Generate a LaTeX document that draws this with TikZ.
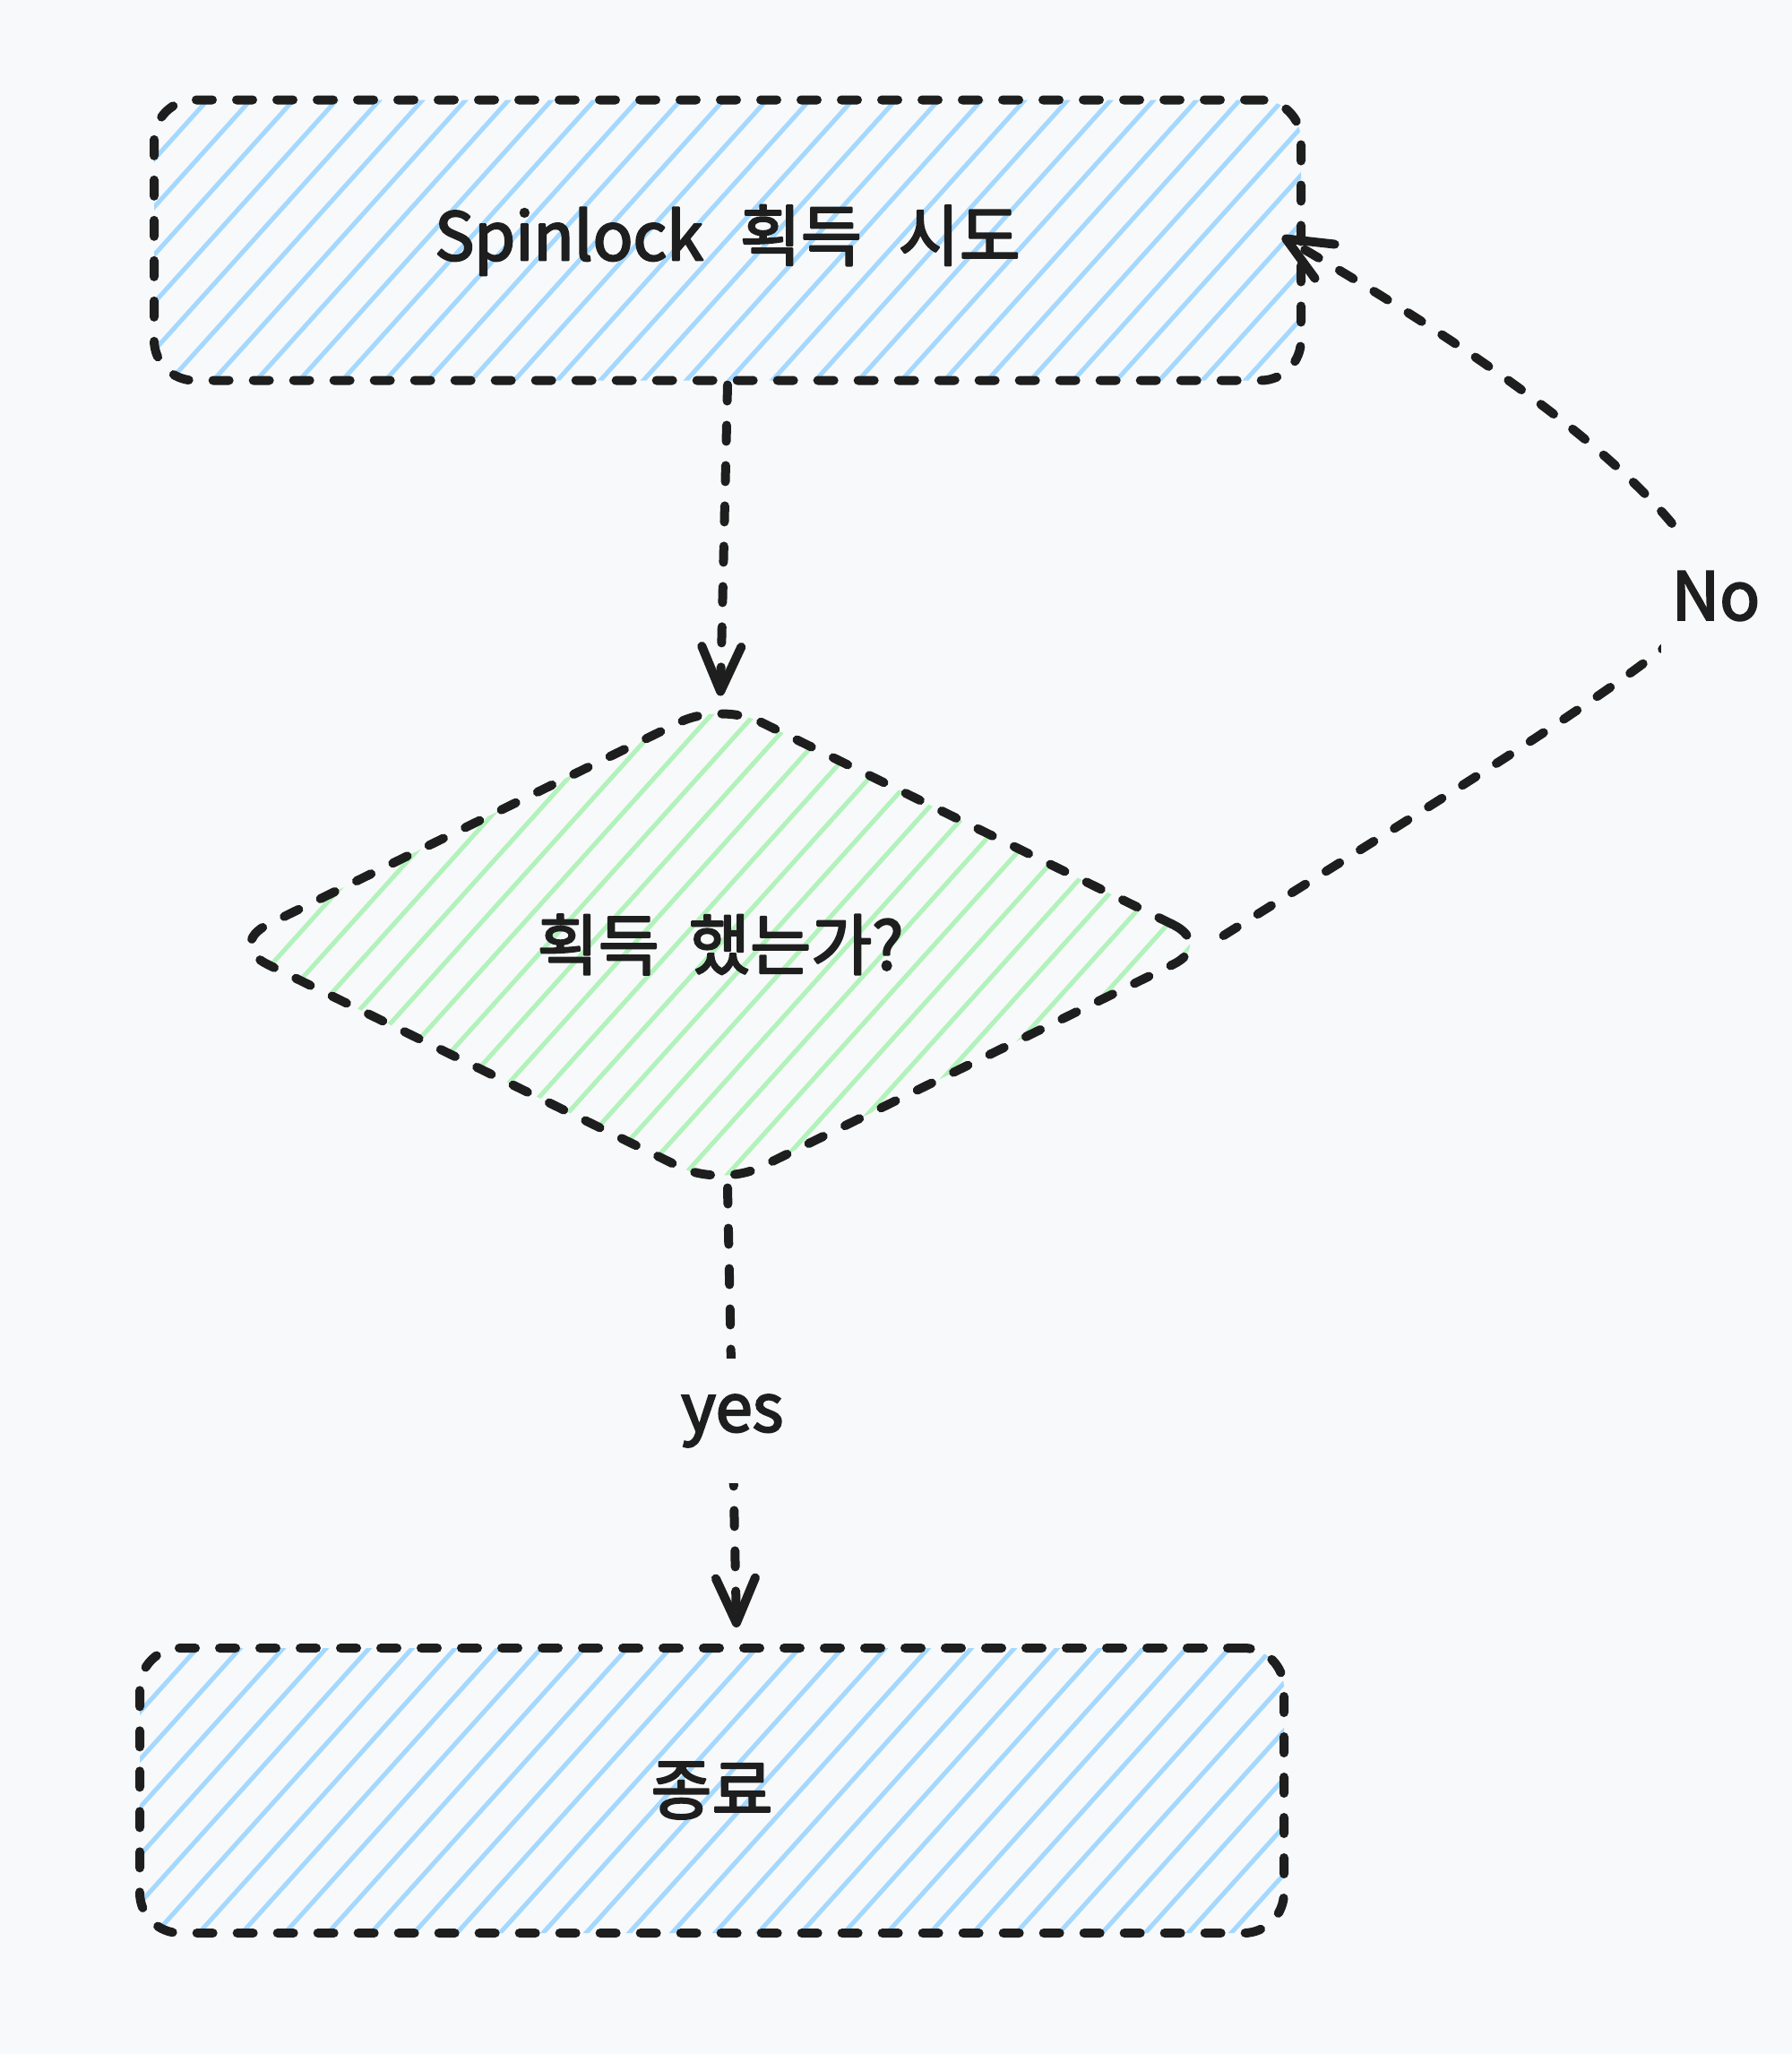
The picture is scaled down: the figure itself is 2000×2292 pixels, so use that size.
\documentclass[tikz,border=0pt]{standalone}
\usepackage{fontspec}
\setmainfont{Noto Sans CJK KR}
\newfontfamily\labelfont{Noto Sans CJK KR}[FakeBold=3]
\usetikzlibrary{shapes.geometric,arrows.meta,calc}
\definecolor{bg}{HTML}{F8F9FA}
\definecolor{ink}{HTML}{1E1E1E}
\definecolor{hblue}{HTML}{A5D8FF}
\definecolor{hgreen}{HTML}{B2F2BB}
\begin{document}
\begin{tikzpicture}[x=1pt,y=-1pt,
  outline/.style={draw=ink, line width=10pt, dash pattern=on 18pt off 27pt, line cap=round, line join=round},
  hatched/.style={path picture={\foreach \k in {-16,...,34} \draw[draw=#1, solid, line width=5pt, line cap=butt] ($(path picture bounding box.south west)+(\k*48,20)$) -- ++(630,-700);}},
  bigfont/.style={font=\labelfont\fontsize{74pt}{88pt}\selectfont, text=ink},
  box/.style={outline, rounded corners=45pt, inner sep=0pt, bigfont},
  decision/.style={outline, shape=diamond, rounded corners=50pt, inner sep=0pt, bigfont},
  conn/.style={draw=ink, line width=10pt, dash pattern=on 18pt off 27pt, line cap=round,
    -{Straight Barb[length=50pt,width=44pt,round]}},
  lbl/.style={fill=bg, text=ink, inner xsep=12pt, inner ysep=40pt, font=\labelfont\fontsize{74pt}{88pt}\selectfont}
]
\useasboundingbox (0,0) rectangle (2000,2292);
\fill[bg] (0,0) rectangle (2000,2292);

\node[box, hatched=hblue, minimum width=1280pt, minimum height=313pt] (top) at (812,268)
  {Spinlock\hspace{0.55em}획득\hspace{0.55em}시도};
\node[decision, hatched=hgreen, minimum width=1105pt, minimum height=545pt] (dia) at (804,1054)
  {획득\hspace{0.45em}했는가?};
\node[box, hatched=hblue, minimum width=1277pt, minimum height=318pt] (endbox) at (794.5,1998)
  {종료};

\coordinate (noend) at ($(top.east)+(-26,-4)$);
\coordinate (yesend) at ($(dia.south |- endbox.north)+(18,-18)$);
\coordinate (yesstart) at ($(dia.south)+(8,-6)$);
\coordinate (nostart) at ($(dia.east)+(4,-10)$);

\draw[conn] (top.south) -- (dia.north);
\draw[conn] (yesstart) -- node[lbl, pos=0.53] (yeslbl) {yes} (yesend);
\draw[conn] (nostart) .. controls (1620,884) and (1890,720) .. (1915,665)
  node[lbl] (nolbl) {No}
  .. controls (1880,560) and (1700,420) .. (noend);
\end{tikzpicture}
\end{document}
